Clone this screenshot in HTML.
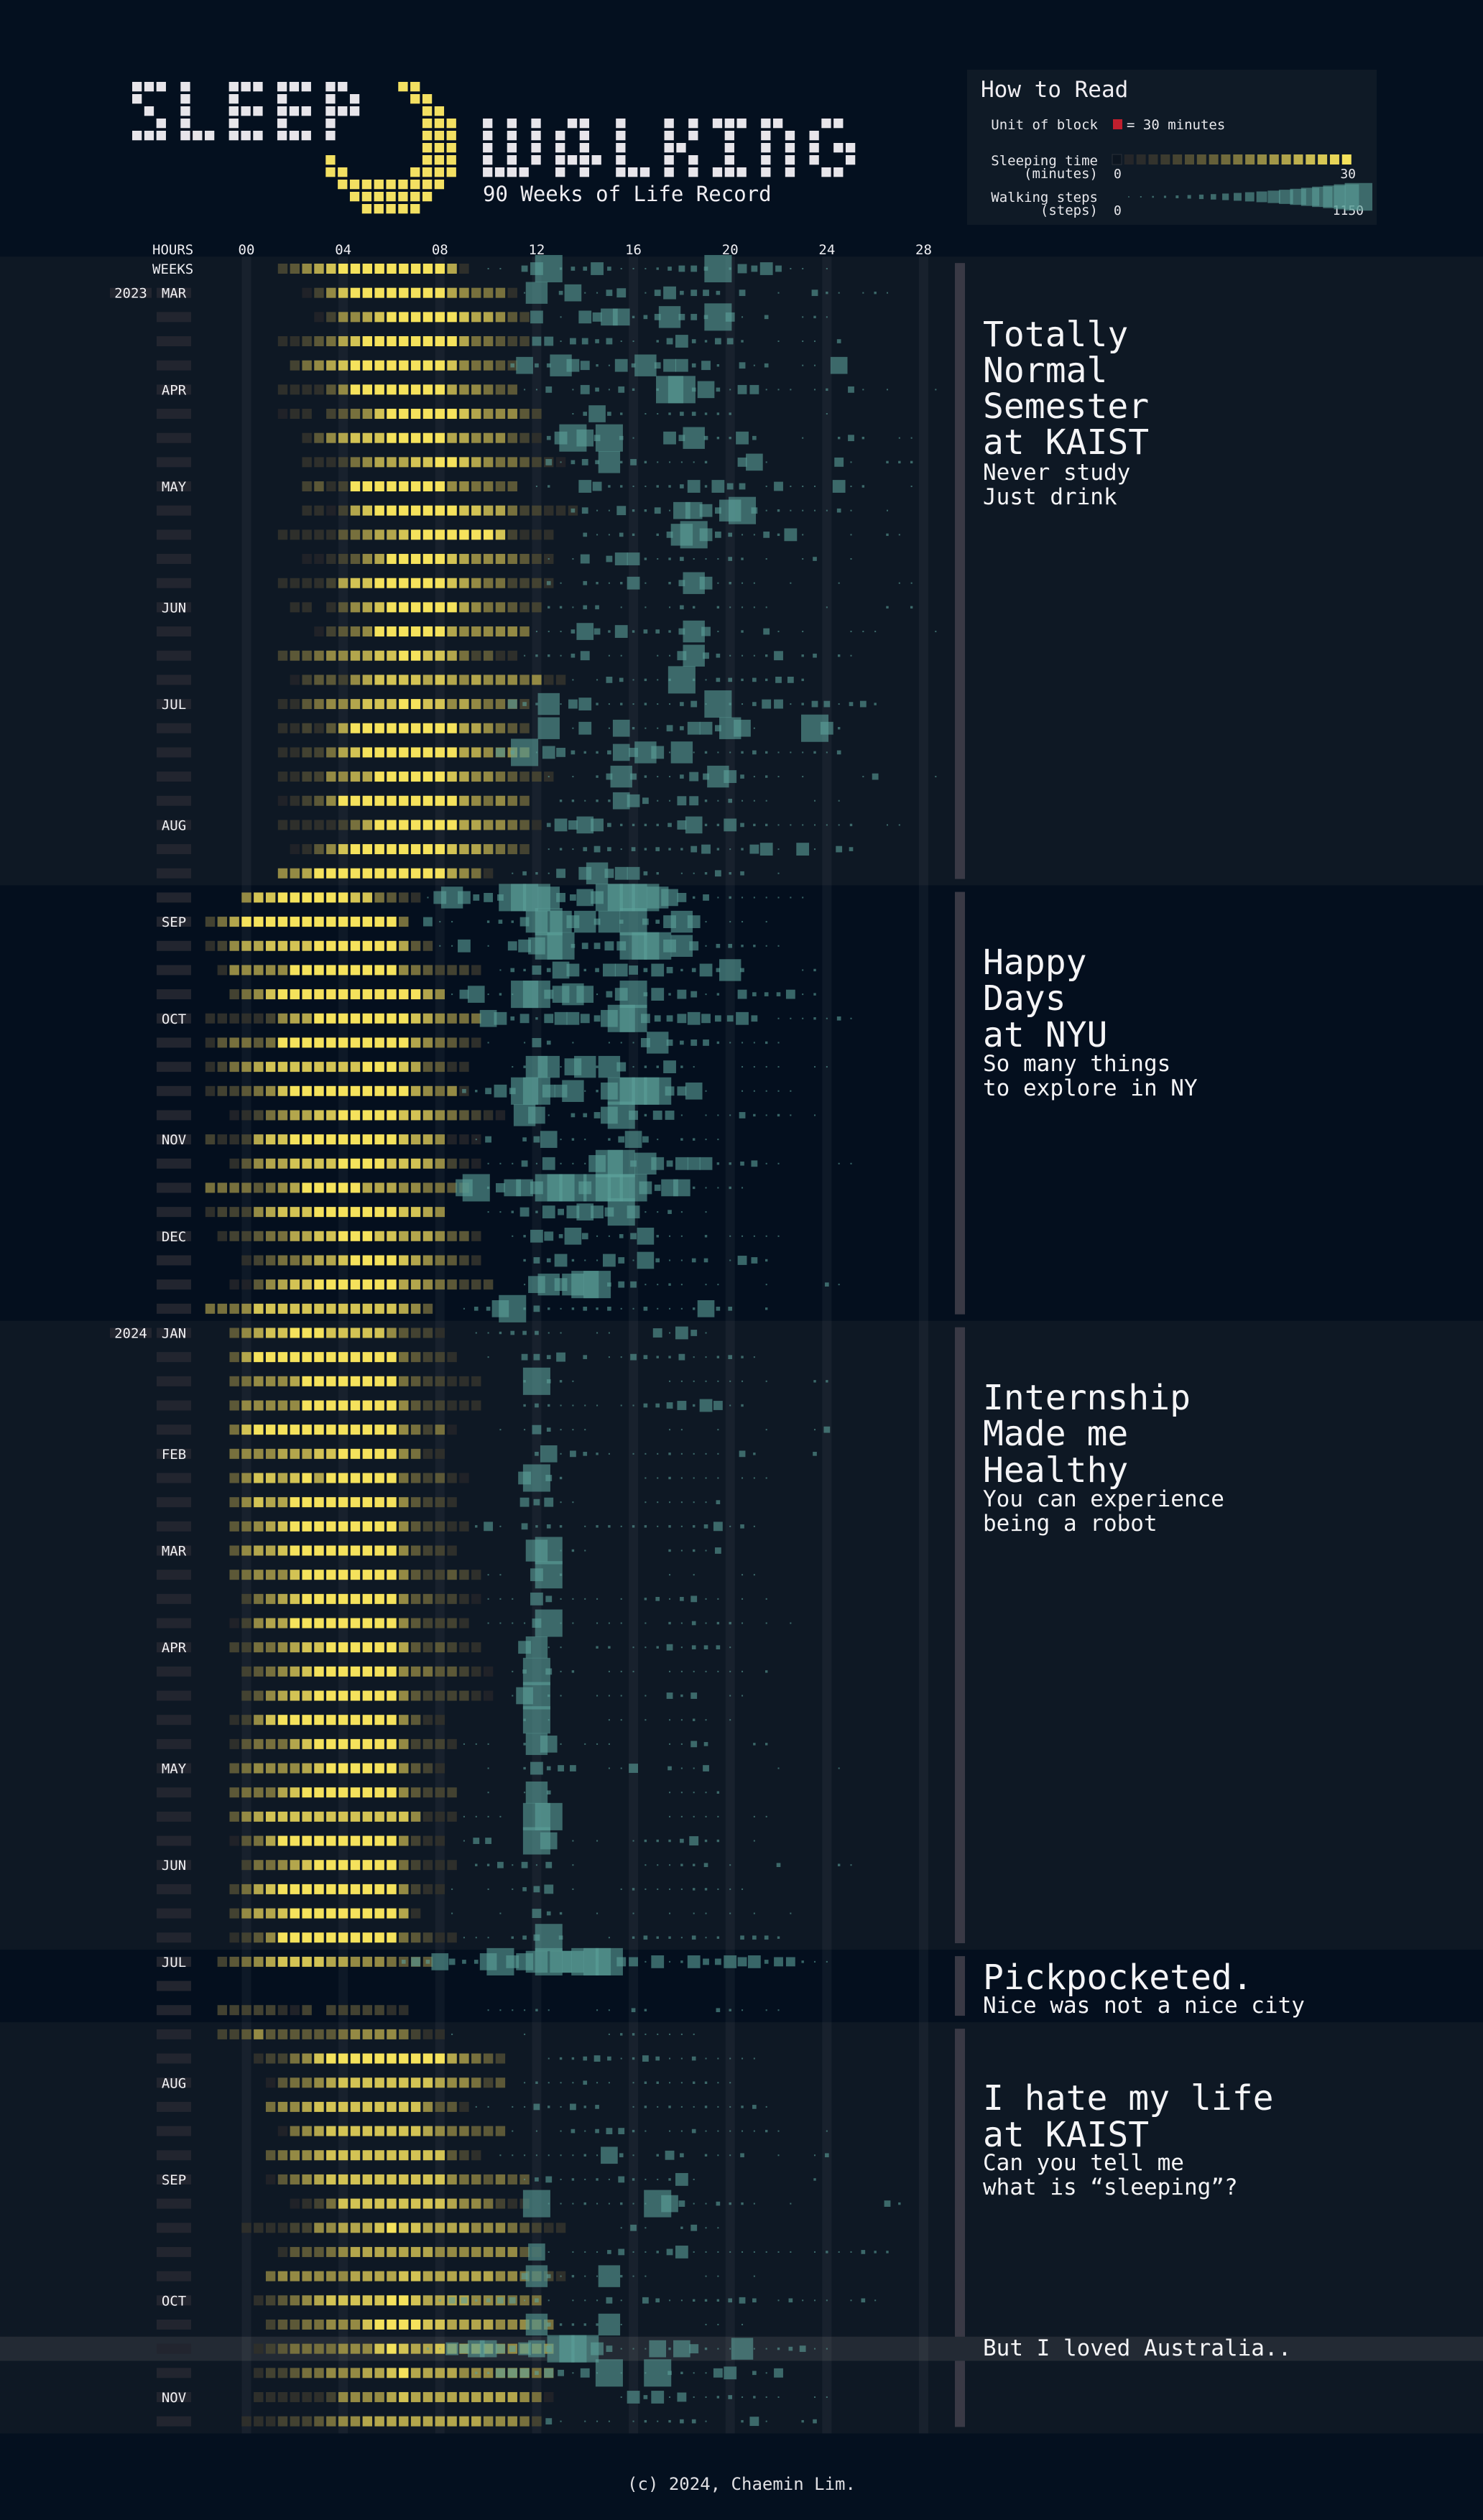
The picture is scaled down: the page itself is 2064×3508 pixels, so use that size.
<!DOCTYPE html>
<html><head><meta charset="utf-8"><title>Sleep Walking</title>
<style>
html,body{margin:0;padding:0;background:#04101f;}
svg{display:block;}
text{font-family:"DejaVu Sans Mono","Liberation Mono",monospace;}
</style></head>
<body>
<svg id="chart" xmlns="http://www.w3.org/2000/svg" width="2064" height="3508" viewBox="0 0 2064 3508">
<rect x="0" y="0" width="2064" height="3508" fill="#04101f"/>
<g id="bands"></g>
<g id="title"></g>
<text x="672" y="280" font-size="29" fill="#f0eef2">90 Weeks of Life Record</text>
<g>
  <rect x="1346" y="97" width="570" height="216" fill="#0f1a26"/>
  <text x="1365" y="135" font-size="31" fill="#f0eef2">How to Read</text>
  <text x="1528" y="180" font-size="19" fill="#e8e8ec" text-anchor="end">Unit of block</text>
  <rect x="1549" y="166" width="13" height="14" fill="#c01f2e"/>
  <text x="1568" y="180" font-size="19" fill="#e8e8ec">= 30 minutes</text>
  <text x="1528" y="230" font-size="19" fill="#e8e8ec" text-anchor="end">Sleeping time</text>
  <text x="1528" y="248" font-size="19" fill="#e8e8ec" text-anchor="end">(minutes)</text>
  <text x="1550" y="248" font-size="18" fill="#e8e8ec">0</text>
  <text x="1887" y="248" font-size="18" fill="#e8e8ec" text-anchor="end">30</text>
  <text x="1528" y="281" font-size="19" fill="#e8e8ec" text-anchor="end">Walking steps</text>
  <text x="1528" y="299" font-size="19" fill="#e8e8ec" text-anchor="end">(steps)</text>
  <text x="1550" y="299" font-size="18" fill="#e8e8ec">0</text>
  <text x="1898" y="299" font-size="18" fill="#e8e8ec" text-anchor="end">1150</text>
  <g id="legendScales"></g>
</g>
<g id="axis"></g>
<g id="marks"></g>
<g fill="#f4f4f6">
  <text font-size="48" x="1368" y="482">Totally</text>
  <text font-size="48" x="1368" y="532">Normal</text>
  <text font-size="48" x="1368" y="582">Semester</text>
  <text font-size="48" x="1368" y="632">at KAIST</text>
  <text font-size="31" x="1368" y="668">Never study</text>
  <text font-size="31" x="1368" y="702">Just drink</text>
  <text font-size="48" x="1368" y="1356">Happy</text>
  <text font-size="48" x="1368" y="1406">Days</text>
  <text font-size="48" x="1368" y="1457">at NYU</text>
  <text font-size="31" x="1368" y="1491">So many things</text>
  <text font-size="31" x="1368" y="1525">to explore in NY</text>
  <text font-size="48" x="1368" y="1962">Internship</text>
  <text font-size="48" x="1368" y="2012">Made me</text>
  <text font-size="48" x="1368" y="2063">Healthy</text>
  <text font-size="31" x="1368" y="2097">You can experience</text>
  <text font-size="31" x="1368" y="2131">being a robot</text>
  <text font-size="48" x="1368" y="2769">Pickpocketed.</text>
  <text font-size="31" x="1368" y="2802">Nice was not a nice city</text>
  <text font-size="48" x="1368" y="2937">I hate my life</text>
  <text font-size="48" x="1368" y="2988">at KAIST</text>
  <text font-size="31" x="1368" y="3021">Can you tell me</text>
  <text font-size="31" x="1368" y="3055">what is “sleeping”?</text>
  <text font-size="31" x="1368" y="3279">But I loved Australia..</text>
</g>
<text x="1032" y="3466" font-size="24" fill="#e0e0e4" text-anchor="middle">(c) 2024, Chaemin Lim.</text>
</svg>
<script>
// ---------- data ----------
const hourTicks = ["00","04","08","12","16","20","24","28"];
const tickHours = [0,4,8,12,16,20,24,28];
const monthRows = [1,5,9,14,18,23,27,31,36,40,44,49,53,57,62,66,70,75,79,84,88];
const monthNames = ["MAR","APR","MAY","JUN","JUL","AUG","SEP","OCT","NOV","DEC","JAN","FEB","MAR","APR","MAY","JUN","JUL","AUG","SEP","OCT","NOV"];
const yearRows = [1,44];
const yearNames = ["2023","2024"];
const sectionFirstRow = [0,26,44,70,73];
const sectionLastRow = [25,43,69,72,89];
const sectionShade = ["light","dark","light","dark","light"];
const highlightRows = [86];
// sleep: start slot (half-hours from 00) and intensity per 30 min (0-9)
const sleepStart = [3,5,6,3,4,3,3,5,5,5,5,3,5,3,4,6,3,4,3,3,3,3,3,3,4,3,0,-3,-3,-2,-1,-3,-3,-3,-3,-1,-3,-1,-3,-3,-2,0,-1,-3,-1,-1,-1,-1,-1,-1,-1,-1,-1,-1,-1,0,-1,-1,0,0,-1,-1,-1,-1,-1,-1,0,-1,-1,-1,-2,0,-2,-2,1,2,2,3,2,2,4,0,3,2,1,2,1,1,1,0];
const sleepLevels = [
"3467899999999972","136899999999765552","136678999999877643","223457899999999755433","3567899999999865543",
"22224699999999766544","1220345689999998766643","24678889999977666432","2223567778899876554321","342399999999665544",
"22137899999998877533222","22222456778999999983222","112346799999876665432","22223788999999876553332","220246789999997655433",
"134569999997666665","34456677889988753422","13443678888787676665622","224566788899886765543","223247999999999776543",
"223357899999999776565","22336677999999876654332","123469999999999765654","2222235799999997766542","12468999999998776543",
"667999999999997652","688999999885432","35799999999999995","2367788889999999743","2666669999999996543332",
"356899999999999976","22222367799999999876555","24554599999999999765432","2356788888888999874422","2334568999999999976562",
"12356778899999887654321","32237889999999998776111","246778888999988876321","5555456799999777665543","23336788899999998876",
"2334557788999887776442","23455677899998765432","1146788999999977654333","5556888888888888764","467889998888864332",
"4799999999999954332","456667999999995433222","466666999999996433222","5899999999999965351","566677788999996522",
"46887897999999543421","4687799999999964332","45678999999999643322","4677899999999964332","456668999999996433432",
"35678999999996443321","13677999999999643332","335567889999997434322","345678999999965544321","346788999999964333321",
"236899999999996422","2455578999999963332","456666789999996432","4555789999999964333","4678888888888886222",
"145799999999996322","355678999999953222","357899999999996322","3677899999999972","2346999999999954322",
"345678888776665444","","3333321303333322","3346444444566665322","233568999999999976543",
"14556788888888766534","56678888888886442","1567888888887655444","456678888888888432","1456788888888886554544",
"12358888888887665322","222233667778988777766654322","2444567777777666666642","5666666777788777777665432","234567888889987777666555",
"344556668999988777766655","2345555666898778777766666","2334556667789777766666655","2222223666678777777777651","2223334566777777777766653"];
// walking: start slot and step level per 30 min (0-9)
const walkStart = [20,23,24,24,22,23,27,25,25,24,27,28,25,25,25,24,23,27,22,25,21,25,26,25,25,22,15,15,16,21,17,20,20,22,18,23,19,20,18,20,22,23,23,18,19,20,23,23,21,24,23,23,19,24,20,20,20,23,22,22,23,18,20,20,18,18,19,17,17,18,13,0,20,17,25,23,19,22,21,23,24,31,24,23,16,24,15,19,31,25];
const walkLevels = [
"11046923363111234439254641101","1803711450146344304001004210121","6010657723484439510300121","55144341102463244200101103","3733865216384663520413001107",
"11401531420299373155111012041010001","1373201123322200000001","3697493100648322630001002420011","4134382421111200571000005100222","12006522112236264401511106120001",
"341152241776489412111131001","311320248964311426100010021","10150466212311132010013001","3103212610248612110010001000011","2213301010132021111000010000202",
"1113742623324851020410100011100001","1221350110011584311125023021","10143121292133232442","5328156212121134192135512441342","8016017211436648710000962",
"53916532237586181211232111213","101024842113548631210100001400001","2212276411552131110001010","365763222235722632211111120011","12134313232245212561061043",
"13215068566320112423001","16864549998547699998752412111111","51100232589868483943686101101","11601056799344559996851332211","132537623665364236383000012",
"1571219957871469362541205333512","7635256654799544565446401112131","1001530100111584344211121","128817828512262100011110011","3246499668127999955710011111",
"8710334795255101114212101","140034712102474102211","1114161117994864666223411000011","792577699969999647721121","1125264676596113101",
"12653741134721102011111","243621164173113301542","178689934411210110001000031","13379242123231131112733002","11233311001100051641",
"10044350301143224112321","29321000000011111110100022","2321111011334526512","1015311100000011001000100014","371432101112111104200003",
"694200000011211110111","54511000001111113","251042320122122121235131","8912100000021214","11006920000000010100011",
"111064111101023134110101","11115911011101021312210101","681100220112413331","1394120011100111111102","17921001110104240011",
"291000011010112101","11100287101110000114300022","100263440011500311400000100001","10018300000000011112","11110099000000000111110011",
"1440009701010012223522001","22414140100000111223010003000021","1001013450100012111122111","10001005320010010010110101001","111023493000102322131203332",
"353743379678988999551612644656355211","","1111210001103200000321011","100000100000012211111","122343124311311111",
"121113110122112211","1101142142300121211211231","101013134421011311111210001","1111111217310253021130010013","1341212142112610000000002",
"9111211211974113221001000000042","141002411","710111341124611111111101211322","483121182110000110010","2442344131011141043112223430131110131",
"832222810000001101","2165775467499964111727521181123411","22555354151910193211560315","163615112312110011","41011101212331002510023"];

// ---------- scales ----------
const X0 = 343, HOUR_PX = 33.66, Y0 = 374, ROW_PX = 33.67;
function xHour(h){ return X0 + h*HOUR_PX; }
function yRow(i){ return Y0 + i*ROW_PX; }
function sleepColor(l){
  const t = Math.pow((l-1)/8, 1.3);
  const a=[32,34,40], b=[245,226,92];
  return "rgb("+a.map((v,i)=>Math.round(v+(b[i]-v)*t)).join(",")+")";
}
function walkSide(l){ return 1.6 + l*l*0.45; }
const NS = "http://www.w3.org/2000/svg";
function el(tag, parent){ const e=document.createElementNS(NS,tag); parent.appendChild(e); return e; }

// ---------- bands ----------
const bands = document.getElementById("bands");
const chartTop = yRow(0) - ROW_PX/2, chartBottom = yRow(89) + ROW_PX/2;
for (let s=0; s<sectionFirstRow.length; s++){
  const y1 = yRow(sectionFirstRow[s]) - ROW_PX/2, y2 = yRow(sectionLastRow[s]) + ROW_PX/2;
  const r = el("rect", bands);
  
  
  r.setAttribute("x",0); r.setAttribute("y",y1); r.setAttribute("width",2064); r.setAttribute("height",y2-y1);
  r.setAttribute("fill", sectionShade[s]==="light" ? "#0e1824" : "#040f1e");
  const bar = el("rect", bands);
  
  
  bar.setAttribute("x",1329); bar.setAttribute("y",y1+9); bar.setAttribute("width",14); bar.setAttribute("height",y2-y1-18);
  bar.setAttribute("fill","#393945");
}
for (const hr of highlightRows){
  const r = el("rect", bands);
  
  
  r.setAttribute("x",0); r.setAttribute("y",yRow(hr)-ROW_PX/2); r.setAttribute("width",2064); r.setAttribute("height",ROW_PX);
  r.setAttribute("fill","#232a34");
}
for (let t=0; t<tickHours.length; t++){
  const r = el("rect", bands);
  
  
  r.setAttribute("x", xHour(tickHours[t])-6.5); r.setAttribute("y", chartTop);
  r.setAttribute("width", 13); r.setAttribute("height", chartBottom-chartTop);
  r.setAttribute("fill", "rgba(255,255,255,0.045)");
}

// ---------- title pixel art ----------
const titleW = [[0,1,2,4,8,9,10,12,13,14,16,17],[0,4,8,12,16,18],[1,4,8,9,10,12,13,14,16,17,18],
 [2,4,8,12,16,29,31,33,36,37,40,44,46,48,49,50,52,53,57,58],
 [0,1,2,4,5,6,8,9,10,12,13,14,16,29,31,33,35,37,40,44,46,49,52,54,56],
 [29,31,33,35,37,40,44,45,49,52,54,56,58,59],
 [29,31,33,35,36,37,38,40,44,46,49,52,54,56,59],
 [29,30,31,32,35,37,40,41,42,44,46,48,49,50,52,54,57,58],[],[],[]];
const titleY = [[22,23],[23,24],[24,25],[24,25,26],[24,25,26],[24,25,26],[16,24,25,26],[16,17,23,24,25,26],
 [17,18,19,20,21,22,23,24,25],[18,19,20,21,22,23,24],[19,20,21,22,23]];
const title = document.getElementById("title");
for (let r=0; r<11; r++){
  for (const [cols,col] of [[titleW[r],"#e7e5ea"],[titleY[r],"#f3e062"]]){
    for (const c of cols){
      const b = el("rect", title);
      
      
      b.setAttribute("x", 184 + c*16.83); b.setAttribute("y", 114 + r*17);
      b.setAttribute("width", 13.3); b.setAttribute("height", 13.3); b.setAttribute("fill", col);
    }
  }
}

// ---------- legend scales ----------
const lg = document.getElementById("legendScales");
for (let i=0;i<20;i++){
  const b = el("rect", lg);
  
  
  b.setAttribute("x", 1548 + i*16.83); b.setAttribute("y", 215); b.setAttribute("width", 13); b.setAttribute("height", 14);
  b.setAttribute("fill", i===0 ? "#0c1520" : sleepColor(1 + 8*i/19));
  if (i===0){ b.setAttribute("stroke","#2a3038"); b.setAttribute("stroke-width","1"); }
}
for (let i=0;i<20;i++){
  const s = walkSide(0.5 + i*0.45);
  const b = el("rect", lg);
  
  
  const cx = 1571 + i*16.83;
  b.setAttribute("x", cx - s/2); b.setAttribute("y", 274 - s/2); b.setAttribute("width", s); b.setAttribute("height", s);
  b.setAttribute("fill", "#5ca099"); b.setAttribute("fill-opacity", "0.6");
}

// ---------- axis ----------
const axis = document.getElementById("axis");
const hl = el("text", axis);


hl.setAttribute("x", 212); hl.setAttribute("y", 354); hl.setAttribute("font-size", 19); hl.setAttribute("fill", "#eeeef2");
hl.textContent = "HOURS";
const wl = el("text", axis);


wl.setAttribute("x", 212); wl.setAttribute("y", 381); wl.setAttribute("font-size", 19); wl.setAttribute("fill", "#eeeef2");
wl.textContent = "WEEKS";
for (let t=0;t<hourTicks.length;t++){
  const tx = el("text", axis);
  
  
  tx.setAttribute("x", xHour(tickHours[t])); tx.setAttribute("y", 354); tx.setAttribute("font-size", 19);
  tx.setAttribute("fill", "#eeeef2"); tx.setAttribute("text-anchor", "middle");
  tx.textContent = hourTicks[t];
}

// ---------- rows ----------
const marks = document.getElementById("marks");
for (let i=1; i<90; i++){
  const box = el("rect", marks);
  
  
  box.setAttribute("x", 218); box.setAttribute("y", yRow(i)-7); box.setAttribute("width", 48); box.setAttribute("height", 14);
  box.setAttribute("fill", "#22252f");
}
for (let m=0; m<monthRows.length; m++){
  const t = el("text", marks);
  
  
  t.setAttribute("x", 242); t.setAttribute("y", yRow(monthRows[m])+7); t.setAttribute("font-size", 19);
  t.setAttribute("fill", "#f2f2f5"); t.setAttribute("text-anchor", "middle");
  t.textContent = monthNames[m];
}
for (let y=0; y<yearRows.length; y++){
  const b = el("rect", marks);
  
  
  b.setAttribute("x", 153); b.setAttribute("y", yRow(yearRows[y])-7); b.setAttribute("width", 58); b.setAttribute("height", 14);
  b.setAttribute("fill", "#22252f");
  const t = el("text", marks);
  
  
  t.setAttribute("x", 182); t.setAttribute("y", yRow(yearRows[y])+7); t.setAttribute("font-size", 19);
  t.setAttribute("fill", "#f2f2f5"); t.setAttribute("text-anchor", "middle");
  t.textContent = yearNames[y];
}
for (let i=0; i<sleepLevels.length; i++){
  const g = el("g", marks);
  
  
  const str = sleepLevels[i];
  for (let j=0; j<str.length; j++){
    const l = +str[j]; if (!l) continue;
    const h = (sleepStart[i] + j)/2;
    const b = el("rect", g);
    
    
    b.setAttribute("x", xHour(h)-6.7); b.setAttribute("y", yRow(i)-7);
    b.setAttribute("width", 13.4); b.setAttribute("height", 14);
    b.setAttribute("fill", sleepColor(l));
  }
  const ws = walkLevels[i];
  for (let j=0; j<ws.length; j++){
    const l = +ws[j]; if (!l) continue;
    const h = (walkStart[i] + j)/2;
    const s = walkSide(l);
    const b = el("rect", g);
    
    
    b.setAttribute("x", xHour(h)-s/2); b.setAttribute("y", yRow(i)-s/2);
    b.setAttribute("width", s); b.setAttribute("height", s);
    b.setAttribute("fill", "#5ca099"); b.setAttribute("fill-opacity", "0.6");
  }
}
</script>
</body></html>
